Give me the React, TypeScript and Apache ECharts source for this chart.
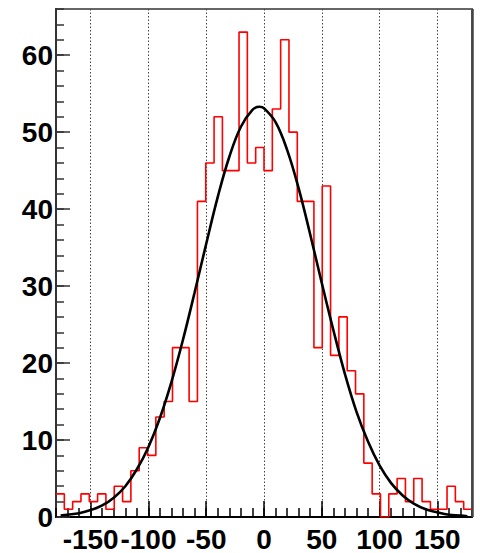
import { useEffect, useRef } from "react";
import * as echarts from "echarts";

// Histogram range and bin contents (50 bins from -180 to 180)
const xMin = -180;
const xMax = 180;
const counts = [
  3, 1, 2, 3, 2, 3, 1, 4, 2, 6,
  9, 8, 13, 15, 22, 22, 15, 41, 46, 52,
  45, 45, 63, 46, 48, 45, 53, 62, 50, 41,
  41, 22, 43, 21, 26, 19, 16, 7, 3, 0,
  3, 5, 2, 5, 2, 1, 1, 4, 2, 1,
];

// Gaussian fit curve
const fitX = [
  -176, -170, -160, -150, -140, -130, -120, -110, -100, -90, -80, -70, -60, -50, -40, -30, -20, -10, -4,
  0, 10, 20, 30, 40, 50, 60, 70, 80, 90, 100, 110, 120, 130, 140, 150, 160, 170, 176,
];
const fitY = [
  0.2, 0.3, 0.5, 0.9, 1.5, 2.5, 4.0, 6.2, 9.1, 12.9, 17.6, 23.1, 29.2, 35.5, 41.6, 46.8, 50.7, 52.9, 53.3,
  53.1, 51.3, 47.7, 42.7, 36.7, 30.4, 24.3, 18.6, 13.7, 9.8, 6.7, 4.4, 2.8, 1.7, 1.0, 0.6, 0.3, 0.2, 0.1,
];

const yMax = 66;
const labelFont = "'Liberation Sans', Arial, Helvetica, sans-serif";

export default function App() {
  const ref = useRef<HTMLDivElement>(null);

  useEffect(() => {
    if (!ref.current) return;
    const chart = echarts.init(ref.current, undefined, { renderer: "svg" });

    const binWidth = (xMax - xMin) / counts.length;
    const histData: number[][] = counts.map((c, i) => [xMin + i * binWidth, c]);
    histData.push([xMax, counts[counts.length - 1]]);
    const fitData = fitX.map((x, i) => [x, fitY[i]]);

    const labelStyle = {
      fontSize: 28,
      fontWeight: "bold" as const,
      fontFamily: labelFont,
      color: "#000",
    };

    chart.setOption({
      animation: false,
      backgroundColor: "#fff",
      grid: {
        left: 56,
        right: 8,
        top: 9,
        bottom: 36,
        show: true,
        borderColor: "#666",
        borderWidth: 2,
        containLabel: false,
      },
      graphic: [
        {
          type: "line",
          shape: { x1: 472.5, y1: 9, x2: 472.5, y2: 517 },
          style: { stroke: "#444", lineWidth: 2.5 },
          z: 10,
        },
      ],
      xAxis: [
        {
          type: "value",
          min: xMin,
          max: xMax,
          splitNumber: 7,
          position: "bottom",
          axisLine: { show: true, onZero: false, lineStyle: { color: "#000", width: 2 } },
          axisTick: { show: true, inside: true, length: 16, lineStyle: { color: "#000", width: 1.5 } },
          axisLabel: {
            show: true,
            showMinLabel: false,
            showMaxLabel: false,
            margin: 8,
            ...labelStyle,
          },
          splitLine: {
            show: true,
            showMinLine: false,
            showMaxLine: false,
            lineStyle: { color: "#444", type: [1.5, 2], width: 1 },
          },
        },
        {
          type: "value",
          min: xMin,
          max: xMax,
          interval: 10,
          position: "bottom",
          axisLine: { show: false, onZero: false },
          axisTick: { show: true, inside: true, length: 9, lineStyle: { color: "#000", width: 1.5 } },
          axisLabel: { show: false },
          splitLine: { show: false },
        },
      ],
      yAxis: [
        {
          type: "value",
          min: 0,
          max: yMax,
          interval: 10,
          position: "left",
          axisLine: { show: true, onZero: false, lineStyle: { color: "#333", width: 2 } },
          axisTick: { show: true, inside: true, length: 14, lineStyle: { color: "#333", width: 1.5 } },
          axisLabel: { show: true, showMaxLabel: false, margin: 3, ...labelStyle },
          splitLine: { show: false },
        },
        {
          type: "value",
          min: 0,
          max: yMax,
          interval: 2,
          position: "left",
          offset: 0,
          axisLine: { show: false, onZero: false },
          axisTick: { show: true, inside: true, length: 8, lineStyle: { color: "#333", width: 1.5 } },
          axisLabel: { show: false },
          splitLine: { show: false },
        },
      ],
      series: [
        {
          type: "line",
          name: "histogram",
          xAxisIndex: 0,
          yAxisIndex: 0,
          step: "end",
          data: histData,
          showSymbol: false,
          symbol: "none",
          lineStyle: { color: "#ff0000", width: 1.6 },
          z: 3,
        },
        {
          type: "line",
          name: "fit",
          xAxisIndex: 0,
          yAxisIndex: 0,
          data: fitData,
          smooth: 0.4,
          showSymbol: false,
          symbol: "none",
          lineStyle: { color: "#000", width: 2.6 },
          z: 4,
        },
      ],
    });

    return () => chart.dispose();
  }, []);

  return (
    <div
      ref={ref}
      style={{ position: "fixed", left: 0, top: 0, width: 480, height: 553, background: "#fff" }}
    />
  );
}
